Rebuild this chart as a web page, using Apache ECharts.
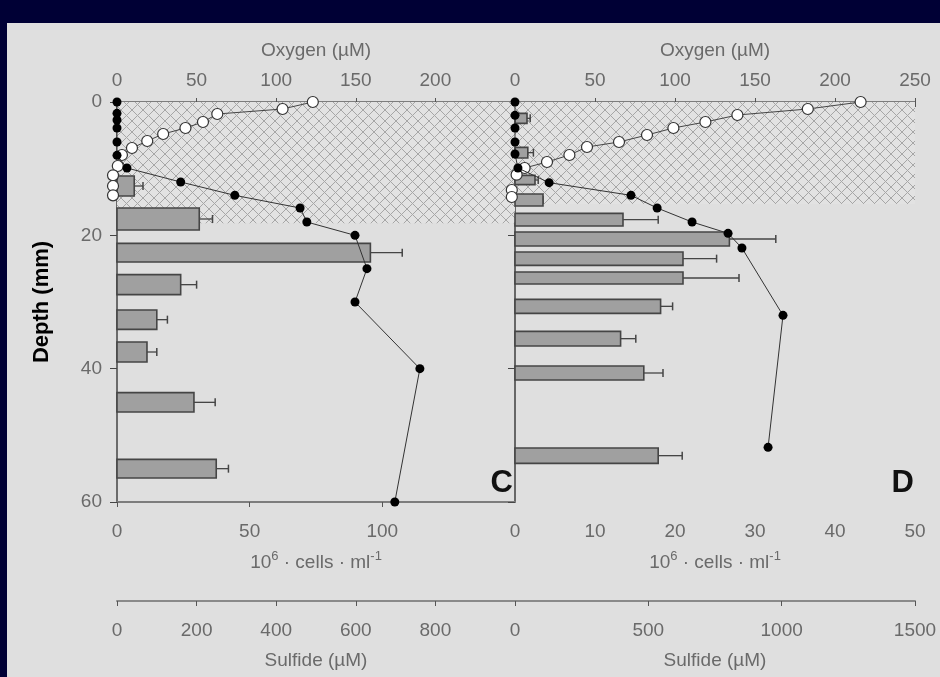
<!DOCTYPE html>
<html>
<head>
<meta charset="utf-8">
<script src="https://cdn.jsdelivr.net/npm/echarts@6/dist/echarts.min.js"></script>
<style>
html,body{margin:0;padding:0;background:#000035;}
#chart{width:940px;height:677px;}
</style>
</head>
<body>
<div id="chart"></div>
<script>
// ---------- Panel C data ----------
const cOxyDepth = [0, 1.05, 1.8, 3.0, 3.9, 4.8, 5.85, 6.9, 7.95, 9.6, 11.0, 12.6, 14.0];
const cOxy      = [123, 104, 63, 54, 43, 29, 19, 9.4, 3.1, 0.5, -2.5, -2.5, -2.5];
const cSulDepth = [0, 1.7, 2.7, 3.9, 6, 8, 9.9, 12, 14, 15.9, 18, 20, 25, 30, 40, 60];
const cSul      = [0, 0, 0, 0, 0, 0, 25, 160, 296, 460, 477, 598, 628, 598, 761, 698];
const cBarTop    = [11.1, 15.9, 21.2, 25.9, 31.2, 36.0, 43.6, 53.6];
const cBarBottom = [14.1, 19.2, 24.0, 28.9, 34.1, 39.0, 46.5, 56.4];
const cCells     = [6.5, 31, 95.5, 24, 15, 11.3, 29, 37.4];
const cCellsErr  = [9.8, 36, 107.5, 30, 19, 15, 37, 42];
const cHatch = [0, 18.2];

// ---------- Panel D data ----------
const dOxyDepth = [0, 1.05, 1.95, 3.0, 3.9, 4.95, 6.0, 6.75, 7.95, 9.0, 9.9, 10.9, 13.2, 14.25];
const dOxy      = [216, 183, 139, 119, 99, 82.5, 65, 45, 34, 20, 6, 1, -2, -2];
const dSulDepth = [0, 2, 3.9, 6, 7.8, 9.9, 12.1, 14, 15.9, 18, 19.7, 21.9, 32, 51.8];
const dSul      = [0, 0, 0, 0, 0, 11, 128, 435, 533, 664, 799, 851, 1005, 949];
const dBarTop    = [1.7, 6.8, 11.0, 13.8, 16.7, 19.5, 22.5, 25.5, 29.6, 34.4, 39.6, 51.9];
const dBarBottom = [3.2, 8.4, 12.4, 15.6, 18.6, 21.6, 24.5, 27.3, 31.7, 36.6, 41.7, 54.2];
const dCells     = [1.5, 1.6, 2.5, 3.5, 13.5, 26.8, 21, 21, 18.2, 13.2, 16.1, 17.9];
const dCellsErr  = [1.9, 2.3, 2.9, 3.5, 17.9, 32.6, 25.2, 28, 19.7, 15.1, 18.5, 20.9];
const dHatch = [0, 15.3];

// ---------- Axis ranges / labels ----------
const depthRange = [0, 60, 20];
const cOxyRange = [0, 250, 50];
const dOxyRange = [0, 250, 50];
const cCellRange = [0, 150, 50];
const dCellRange = [0, 50, 10];
const cSulRange = [0, 1000, 200];
const dSulRange = [0, 1500, 500];
const oxyName = 'Oxygen (µM)';
const cellName = '10{sup|6} · cells · ml{sup|-1}';
const sulName = 'Sulfide (µM)';
const depthName = 'Depth (mm)';
const panelLetters = ['C', 'D'];

// ---------- helpers ----------
const FONT = "'Liberation Sans', Arial, sans-serif";
const LABEL_COLOR = '#6a6a6a';
const plain = v => String(v);

function hatchPattern() {
  const s = 11;
  const c = document.createElement('canvas');
  c.width = s; c.height = s;
  const g = c.getContext('2d');
  g.fillStyle = '#e2e2e2';
  g.fillRect(0, 0, s, s);
  g.strokeStyle = '#a6a6a6';
  g.lineWidth = 1;
  g.beginPath();
  g.moveTo(0, 0); g.lineTo(s, s);
  g.moveTo(0, s); g.lineTo(s, 0);
  g.stroke();
  return c;
}
const pattern = {image: hatchPattern(), repeat: 'repeat'};

function pairs(xs, ys) { return xs.map((x, i) => [x, ys[i]]); }
function barData(top, bot, val, err) { return top.map((t, i) => [t, bot[i], val[i], err[i]]); }

function renderBar(params, api) {
  const top = api.value(0), bot = api.value(1), v = api.value(2), e = api.value(3);
  const p0 = api.coord([0, top]);
  const p1 = api.coord([v, bot]);
  const pe = api.coord([e, (top + bot) / 2]);
  const stroke = '#454545';
  return {
    type: 'group',
    children: [
      {type: 'line', shape: {x1: p1[0], y1: pe[1], x2: pe[0], y2: pe[1]}, style: {stroke: stroke, lineWidth: 1.3}},
      {type: 'line', shape: {x1: pe[0], y1: pe[1] - 4, x2: pe[0], y2: pe[1] + 4}, style: {stroke: stroke, lineWidth: 1.5}},
      {type: 'rect', shape: {x: p0[0], y: p0[1], width: p1[0] - p0[0], height: p1[1] - p0[1]},
       style: {fill: '#a0a0a0', stroke: stroke, lineWidth: 1.6}}
    ]
  };
}

function labelStyle(margin, extra) {
  return Object.assign({color: LABEL_COLOR, fontSize: 19, fontFamily: FONT, margin: margin, formatter: plain}, extra || {});
}

function xAxis(grid, range, pos, name, opts) {
  return Object.assign({
    type: 'value', gridIndex: grid, position: pos, min: range[0], max: range[1], interval: range[2],
    name: name, nameLocation: 'middle',
    nameTextStyle: {color: LABEL_COLOR, fontSize: 19, fontFamily: FONT,
      rich: {sup: {fontSize: 13, color: LABEL_COLOR, fontFamily: FONT, verticalAlign: 'top', padding: [0, 0, 12, 0]}}},
    splitLine: {show: false},
    axisLine: {show: true, lineStyle: {color: '#7d7d7d', width: 2}},
    axisTick: {show: true, inside: false, length: 4, lineStyle: {color: '#555', width: 1}},
    axisLabel: labelStyle(12)
  }, opts || {});
}

const sym = {
  open: {symbol: 'circle', symbolSize: 11, itemStyle: {color: '#ffffff', borderColor: '#333', borderWidth: 1.2}},
  filled: {symbol: 'circle', symbolSize: 9, itemStyle: {color: '#000000', borderColor: '#000', borderWidth: 0}}
};
const bottomTick = {show: true, length: 5, lineStyle: {color: '#555'}};
const sulLine = {show: true, lineStyle: {color: '#8a8a8a', width: 2}};

const chart = echarts.init(document.getElementById('chart'), null, {renderer: 'canvas'});
const option = {
  backgroundColor: '#000035',
  animation: false,
  graphic: [
    {type: 'rect', left: 7, top: 23, shape: {width: 933, height: 654}, style: {fill: '#dfdfdf'}, z: -100, silent: true},
    {type: 'text', x: 513, y: 499, z: 50, style: {text: panelLetters[0], textAlign: 'right', textVerticalAlign: 'bottom', font: 'bold 31px ' + FONT, fill: '#111'}},
    {type: 'text', x: 914, y: 499, z: 50, style: {text: panelLetters[1], textAlign: 'right', textVerticalAlign: 'bottom', font: 'bold 31px ' + FONT, fill: '#111'}}
  ],
  grid: [
    {left: 117, top: 102, width: 398, height: 400, containLabel: false},
    {left: 515, top: 102, width: 400, height: 400, containLabel: false}
  ],
  xAxis: [
    xAxis(0, cOxyRange, 'top', oxyName, {nameGap: 42, axisLabel: labelStyle(12, {showMaxLabel: false})}),
    xAxis(0, cCellRange, 'bottom', cellName, {nameGap: 48, axisTick: bottomTick, axisLabel: labelStyle(20, {showMaxLabel: false})}),
    xAxis(0, cSulRange, 'bottom', sulName, {offset: 99, nameGap: 50, axisLine: sulLine, axisTick: bottomTick,
      axisLabel: labelStyle(20, {showMaxLabel: false})}),
    xAxis(1, dOxyRange, 'top', oxyName, {nameGap: 42}),
    xAxis(1, dCellRange, 'bottom', cellName, {nameGap: 48, axisTick: bottomTick, axisLabel: labelStyle(20)}),
    xAxis(1, dSulRange, 'bottom', sulName, {offset: 99, nameGap: 50, axisLine: sulLine, axisTick: bottomTick, axisLabel: labelStyle(20)})
  ],
  yAxis: [
    {type: 'value', gridIndex: 0, position: 'left', inverse: true, min: depthRange[0], max: depthRange[1], interval: depthRange[2],
     name: depthName, nameLocation: 'middle', nameGap: 64, nameRotate: 90,
     nameTextStyle: {color: '#000', fontSize: 22, fontWeight: 'bold', fontFamily: FONT},
     splitLine: {show: false},
     axisLine: {show: true, lineStyle: {color: '#454545', width: 1.5}},
     axisTick: {show: true, length: 7, lineStyle: {color: '#454545'}},
     axisLabel: labelStyle(15)},
    {type: 'value', gridIndex: 1, position: 'left', inverse: true, min: depthRange[0], max: depthRange[1], interval: depthRange[2],
     splitLine: {show: false},
     axisLine: {show: true, lineStyle: {color: '#454545', width: 1.5}},
     axisTick: {show: true, length: 7, lineStyle: {color: '#454545'}},
     axisLabel: {show: false}},
    {type: 'value', gridIndex: 1, position: 'right', inverse: true, min: depthRange[0], max: depthRange[1], interval: depthRange[2],
     splitLine: {show: false},
     axisLine: {show: true, lineStyle: {color: '#666', width: 1.5}},
     axisTick: {show: false}, axisLabel: {show: false}}
  ],
  series: [
    // Panel C
    {type: 'custom', xAxisIndex: 1, yAxisIndex: 0, renderItem: renderBar, data: barData(cBarTop, cBarBottom, cCells, cCellsErr),
     encode: {x: [2, 3], y: [0, 1]}, z: 3, clip: false,
     markArea: {silent: true, itemStyle: {color: pattern, opacity: 1}, data: [[{yAxis: cHatch[0]}, {yAxis: cHatch[1]}]], z: 1}},
    {type: 'line', xAxisIndex: 0, yAxisIndex: 0, data: pairs(cOxy, cOxyDepth), clip: false, z: 5,
     lineStyle: {color: '#444', width: 1}, symbol: sym.open.symbol, symbolSize: sym.open.symbolSize, itemStyle: sym.open.itemStyle},
    {type: 'line', xAxisIndex: 2, yAxisIndex: 0, data: pairs(cSul, cSulDepth), clip: false, z: 6,
     lineStyle: {color: '#333', width: 1}, symbol: sym.filled.symbol, symbolSize: sym.filled.symbolSize, itemStyle: sym.filled.itemStyle},
    // Panel D
    {type: 'custom', xAxisIndex: 4, yAxisIndex: 1, renderItem: renderBar, data: barData(dBarTop, dBarBottom, dCells, dCellsErr),
     encode: {x: [2, 3], y: [0, 1]}, z: 3, clip: false,
     markArea: {silent: true, itemStyle: {color: pattern, opacity: 1}, data: [[{yAxis: dHatch[0]}, {yAxis: dHatch[1]}]], z: 1}},
    {type: 'line', xAxisIndex: 3, yAxisIndex: 1, data: pairs(dOxy, dOxyDepth), clip: false, z: 5,
     lineStyle: {color: '#444', width: 1}, symbol: sym.open.symbol, symbolSize: sym.open.symbolSize, itemStyle: sym.open.itemStyle},
    {type: 'line', xAxisIndex: 5, yAxisIndex: 1, data: pairs(dSul, dSulDepth), clip: false, z: 6,
     lineStyle: {color: '#333', width: 1}, symbol: sym.filled.symbol, symbolSize: sym.filled.symbolSize, itemStyle: sym.filled.itemStyle}
  ]
};
chart.setOption(option);
</script>
</body>
</html>
